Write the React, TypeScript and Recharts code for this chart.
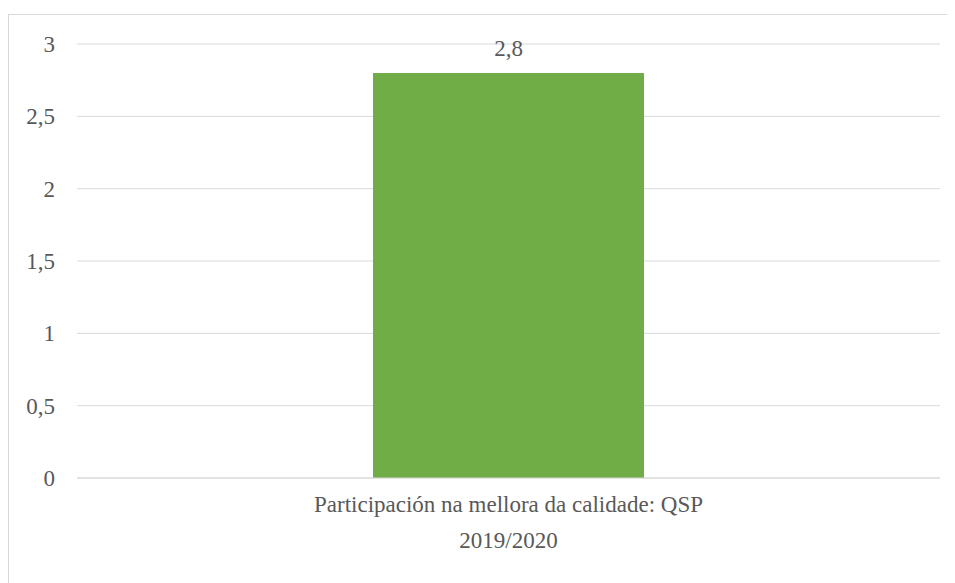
import * as React from "react";
import { Bar, BarChart, CartesianGrid, LabelList, XAxis, YAxis } from "recharts";

const categories = ["Participación na mellora da calidade: QSP"];
const seriesName = "2019/2020";
const values = [2.8];
const yTicks = [0, 0.5, 1, 1.5, 2, 2.5, 3];

const data = categories.map((c, i) => ({ name: c, value: values[i] }));

const FONT = "Liberation Serif, serif";
const SIZE = 23;
const TEXT = "#595959";
const GRID = "#d9d9d9";

const fmt = (v: any) => String(v).replace(".", ",");

// category name with the series name underneath, like the legend-less excel export
function CategoryTick(props: any) {
    const { x, y, payload } = props;
    return (
        <g>
            <text x={x} y={y + 26} textAnchor="middle" fill={TEXT} fontSize={SIZE} fontFamily={FONT}>
                {payload.value}
            </text>
            <text x={x} y={y + 62} textAnchor="middle" fill={TEXT} fontSize={SIZE} fontFamily={FONT}>
                {seriesName}
            </text>
        </g>
    );
}

export default function App() {
    return (
        <div style={{ marginTop: 6, width: 947, height: 568, borderTop: `1px solid ${GRID}`, borderLeft: `1px solid ${GRID}`, background: "#fff" }}>
            <style>{`html, body { overflow: hidden; }`}</style>
            <BarChart width={947} height={568} data={data} margin={{ top: 29, right: 16, left: 0, bottom: 0 }} barCategoryGap="34.3%">
                <CartesianGrid vertical={false} stroke={GRID} />
                <XAxis
                    dataKey="name"
                    height={105}
                    axisLine={{ stroke: GRID }}
                    tickLine={false}
                    tick={<CategoryTick />}
                    interval={0}
                />
                <YAxis
                    width={68}
                    domain={[0, 3]}
                    ticks={yTicks}
                    axisLine={false}
                    tickLine={false}
                    tickSize={0}
                    tickMargin={22}
                    tickFormatter={fmt}
                    tick={{ fill: TEXT, fontSize: SIZE, fontFamily: FONT }}
                />
                <Bar dataKey="value" fill="#70ad47" isAnimationActive={false}>
                    <LabelList dataKey="value" position="top" offset={17} formatter={fmt} fill={TEXT} fontSize={SIZE} fontFamily={FONT} />
                </Bar>
            </BarChart>
        </div>
    );
}
